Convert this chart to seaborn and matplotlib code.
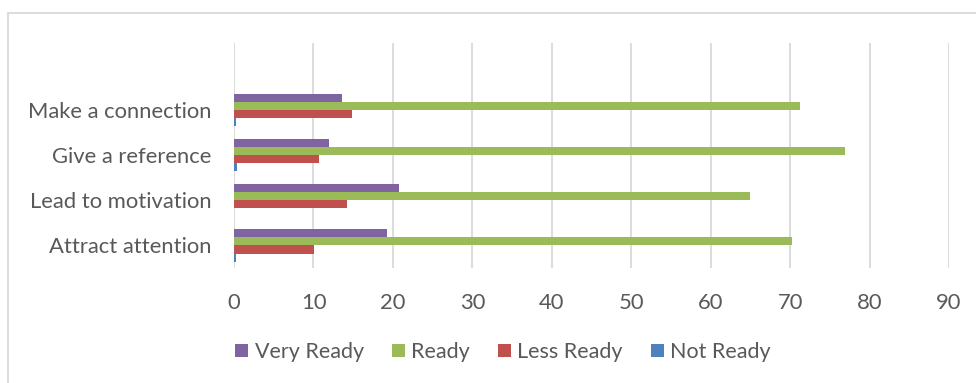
import pandas as pd
import seaborn as sns
import matplotlib.pyplot as plt
from matplotlib.patches import Rectangle

# Values (percent)
categories = ["Make a connection", "Give a reference", "Lead to motivation", "Attract attention"]
levels = ["Very Ready", "Ready", "Less Ready", "Not Ready"]
very_ready = [13.6, 11.9, 20.8, 19.2]
ready = [71.3, 76.9, 64.9, 70.3]
less_ready = [14.8, 10.7, 14.2, 10.1]
not_ready = [0.2, 0.4, 0.0, 0.3]
colors = ["#8064A2", "#9BBB59", "#C0504D", "#4F81BD"]

rows = []
for level, vals in zip(levels, [very_ready, ready, less_ready, not_ready]):
    for cat, v in zip(categories, vals):
        rows.append({"Category": cat, "Level": level, "Value": v})
df = pd.DataFrame(rows)

sns.set_style("white")
plt.rcParams['font.family'] = ['Lato', 'DejaVu Sans']

fig = plt.figure(figsize=(9.76, 3.83), dpi=100)
ax = fig.add_axes([234 / 976, 1 - 268 / 383, (949 - 234) / 976, 225 / 383])

sns.barplot(data=df, y="Category", x="Value", hue="Level", order=categories,
            hue_order=levels, palette=colors, orient="h", width=0.72, gap=0,
            saturation=1, linewidth=0, ax=ax, legend=True)

ax.set_xlim(0, 90)
ax.set_ylim(3.5, -1.48)
ax.set_xticks(range(0, 91, 10))
ax.xaxis.grid(True, color="#d9d9d9", linewidth=1.3)
ax.set_axisbelow(True)
for s in ax.spines.values():
    s.set_visible(False)
ax.set_xlabel("")
ax.set_ylabel("")
ax.tick_params(axis="both", length=0, labelsize=15.8, colors="#595959")
ax.tick_params(axis="x", pad=18)
ax.tick_params(axis="y", pad=16)

handles, labels = ax.get_legend_handles_labels()
ax.legend_.remove()
fig.legend(handles, labels, loc="center", bbox_to_anchor=(503 / 976, 1 - 352 / 383),
           ncol=4, frameon=False, fontsize=15.5, labelcolor="#595959",
           handlelength=0.6, handleheight=0.6, handletextpad=0.3, columnspacing=1.3)

# light chart border like the original
fig.patches.append(Rectangle((8 / 976, -0.1), 1.1, 1 - 13 / 383 + 0.1,
                             transform=fig.transFigure, fill=False,
                             edgecolor="#d9d9d9", linewidth=1.3))

fig.savefig("out.png", dpi=100)
